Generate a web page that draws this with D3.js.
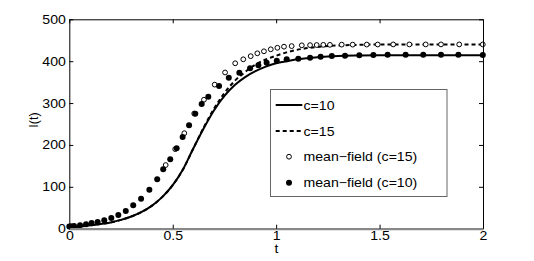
<!DOCTYPE html>
<html>
<head>
<meta charset="utf-8">
<script src="https://cdn.jsdelivr.net/npm/d3@7"></script>
<style>
  body { margin: 0; background: #fff; }
  text { font-family: "Liberation Sans", Arial, Helvetica, sans-serif; font-size: 12.5px; fill: #000; }
</style>
</head>
<body>
<div id="chart"></div>
<script>
// simulated curves, same t grid for both
var T_CURVE = [0, 0.05, 0.1, 0.15, 0.2, 0.25, 0.3, 0.35, 0.4, 0.45, 0.5, 0.55, 0.6, 0.65, 0.7,
    0.75, 0.8, 0.85, 0.9, 0.95, 1.0, 1.05, 1.1, 1.2, 1.3, 1.4, 1.5, 1.6, 1.8, 2.0];
var I_C10 = [3, 5, 8, 11, 15, 21, 29, 40, 55, 76, 104, 142, 192, 240, 283,
    317, 343, 362, 376, 387, 395, 400, 404.5, 409.5, 412.5, 413.5, 414, 414, 414, 414];
var I_C15 = [3, 5, 8, 11, 15, 21, 29, 40, 55, 76, 104, 142, 192, 242, 287,
    324, 353, 374, 392, 404, 413, 421, 427, 434, 437.5, 439, 440, 440, 440, 440];

// mean-field (c=10), filled dots
var T_MF10 = [0, 0.006, 0.012, 0.023, 0.052, 0.081, 0.108, 0.137, 0.169, 0.203, 0.237, 0.273,
    0.309, 0.347, 0.387, 0.425, 0.454, 0.488, 0.519, 0.548, 0.579, 0.609, 0.640, 0.672,
    0.724, 0.771, 0.822, 0.874, 0.914, 0.954, 1.003, 1.051, 1.107, 1.164, 1.215, 1.269,
    1.333, 1.402, 1.470, 1.539, 1.626, 1.711, 1.797, 1.881, 1.999];
var I_MF10 = [5, 5, 5.5, 6.4, 8.1, 10.5, 13.6, 16, 20, 25.5, 32.7, 42.3,
    55.9, 71.6, 93.1, 118, 141.8, 165.7, 192, 219, 246.9, 274.6, 297.8, 315.2,
    340.7, 360.6, 372.5, 383, 390, 396.4, 401, 404.5, 406, 408.3, 410.7, 412.4,
    413, 414, 414.8, 415.5, 415.5, 415.5, 415.5, 415.5, 415];

// mean-field (c=15), open circles
var T_MF15 = [0.466, 0.512, 0.556, 0.604, 0.651, 0.703, 0.753, 0.802, 0.841, 0.877, 0.909,
    0.941, 0.974, 1.006, 1.038, 1.075, 1.124, 1.164, 1.196, 1.228, 1.260, 1.317, 1.370,
    1.438, 1.491, 1.566, 1.644, 1.723, 1.797, 1.885, 1.999];
var I_MF15 = [152, 190, 228, 275, 308, 344, 373, 395, 404.5, 412, 418.8,
    423.6, 428.4, 432, 434.6, 436, 437.9, 438.3, 438.6, 439, 439, 439.5, 439.5,
    439.7, 439.8, 440, 440, 440, 440, 440, 440];

var X_TICKS = [0, 0.5, 1, 1.5, 2];
var Y_TICKS = [0, 100, 200, 300, 400, 500];
var LEGEND = ['c=10', 'c=15', 'mean\u2212field (c=15)', 'mean\u2212field (c=10)'];

var W = 534, H = 261,
    pL = 69.3, pR = 483, pT = 19.3, pB = 228.7,
    stretch = 'scale(1.13,1)';

var svg = d3.select('#chart').append('svg')
    .attr('width', W)
    .attr('height', H);

var x = d3.scaleLinear().domain([0, 2]).range([pL, pR]);
var y = d3.scaleLinear().domain([0, 500]).range([pB, pT]);

function zip(ts, vs) {
    return ts.map(function(t, i) { return [t, vs[i]]; });
}

var line = d3.line()
    .x(function(d) { return x(d[0]); })
    .y(function(d) { return y(d[1]); })
    .curve(d3.curveMonotoneX);

svg.append('path')
    .datum(zip(T_CURVE, I_C10))
    .attr('d', line)
    .attr('fill', 'none')
    .attr('stroke', '#000')
    .attr('stroke-width', 2);

svg.append('path')
    .datum(zip(T_CURVE, I_C15))
    .attr('d', line)
    .attr('fill', 'none')
    .attr('stroke', '#000')
    .attr('stroke-width', 2)
    .attr('stroke-dasharray', '4,3');

svg.append('g').selectAll('circle')
    .data(zip(T_MF15, I_MF15))
    .enter().append('circle')
    .attr('cx', function(d) { return x(d[0]); })
    .attr('cy', function(d) { return y(d[1]); })
    .attr('r', 2.4)
    .attr('fill', '#fff')
    .attr('stroke', '#000')
    .attr('stroke-width', 1);

svg.append('g').selectAll('circle')
    .data(zip(T_MF10, I_MF10))
    .enter().append('circle')
    .attr('cx', function(d) { return x(d[0]); })
    .attr('cy', function(d) { return y(d[1]); })
    .attr('r', 3)
    .attr('fill', '#000');

// axes, ticks pointing inward like matlab
var xAxis = svg.append('g')
    .attr('transform', 'translate(0,' + pB + ')')
    .call(d3.axisBottom(x).tickValues(X_TICKS).tickSizeInner(-4).tickSizeOuter(0)
        .tickPadding(2).tickFormat(String));
svg.append('g')
    .attr('transform', 'translate(' + pL + ',0)')
    .call(d3.axisLeft(y).tickValues(Y_TICKS).tickSizeInner(-4).tickSizeOuter(0)
        .tickPadding(3).tickFormat(String));
svg.append('g')
    .attr('transform', 'translate(0,' + pT + ')')
    .call(d3.axisTop(x).tickValues(X_TICKS).tickSizeInner(-4).tickSizeOuter(0).tickFormat(''));
svg.append('g')
    .attr('transform', 'translate(' + pR + ',0)')
    .call(d3.axisRight(y).tickValues(Y_TICKS).tickSizeInner(-4).tickSizeOuter(0).tickFormat(''));

svg.selectAll('.tick text')
    .attr('font-family', null).attr('font-size', null)
    .attr('transform', stretch);
svg.selectAll('.domain').attr('stroke', '#000');
svg.selectAll('.tick line').attr('stroke', '#000');
xAxis.select('.domain').attr('stroke', '#888').attr('stroke-width', 2.2);
xAxis.raise();

// axis labels
svg.append('text')
    .attr('transform', 'translate(276.5,252.5) ' + stretch)
    .attr('text-anchor', 'middle')
    .text('t');
svg.append('text')
    .attr('transform', 'translate(37.5,' + ((pT + pB) / 2 - 4) + ') rotate(-90)')
    .attr('text-anchor', 'middle')
    .text('I(t)');

// legend
var lg = svg.append('g');
lg.append('rect')
    .attr('x', 270.5).attr('y', 89.5)
    .attr('width', 176.5).attr('height', 107)
    .attr('fill', '#fff')
    .attr('stroke', '#666')
    .attr('stroke-width', 1);

var rowY = [105, 131, 156.7, 182.7];
lg.append('line')
    .attr('x1', 275.7).attr('x2', 302.3).attr('y1', rowY[0]).attr('y2', rowY[0])
    .attr('stroke', '#000').attr('stroke-width', 2);
lg.append('line')
    .attr('x1', 275.7).attr('x2', 302.3).attr('y1', rowY[1]).attr('y2', rowY[1])
    .attr('stroke', '#000').attr('stroke-width', 2).attr('stroke-dasharray', '4,3');
lg.append('circle')
    .attr('cx', 289).attr('cy', rowY[2]).attr('r', 2.4)
    .attr('fill', '#fff').attr('stroke', '#000');
lg.append('circle')
    .attr('cx', 289).attr('cy', rowY[3]).attr('r', 3)
    .attr('fill', '#000');

lg.selectAll('text.lbl')
    .data(LEGEND)
    .enter().append('text')
    .attr('class', 'lbl')
    .attr('transform', function(d, i) { return 'translate(303.5,' + (rowY[i] + 4.5) + ') ' + stretch; })
    .text(function(d) { return d; });
</script>
</body>
</html>
